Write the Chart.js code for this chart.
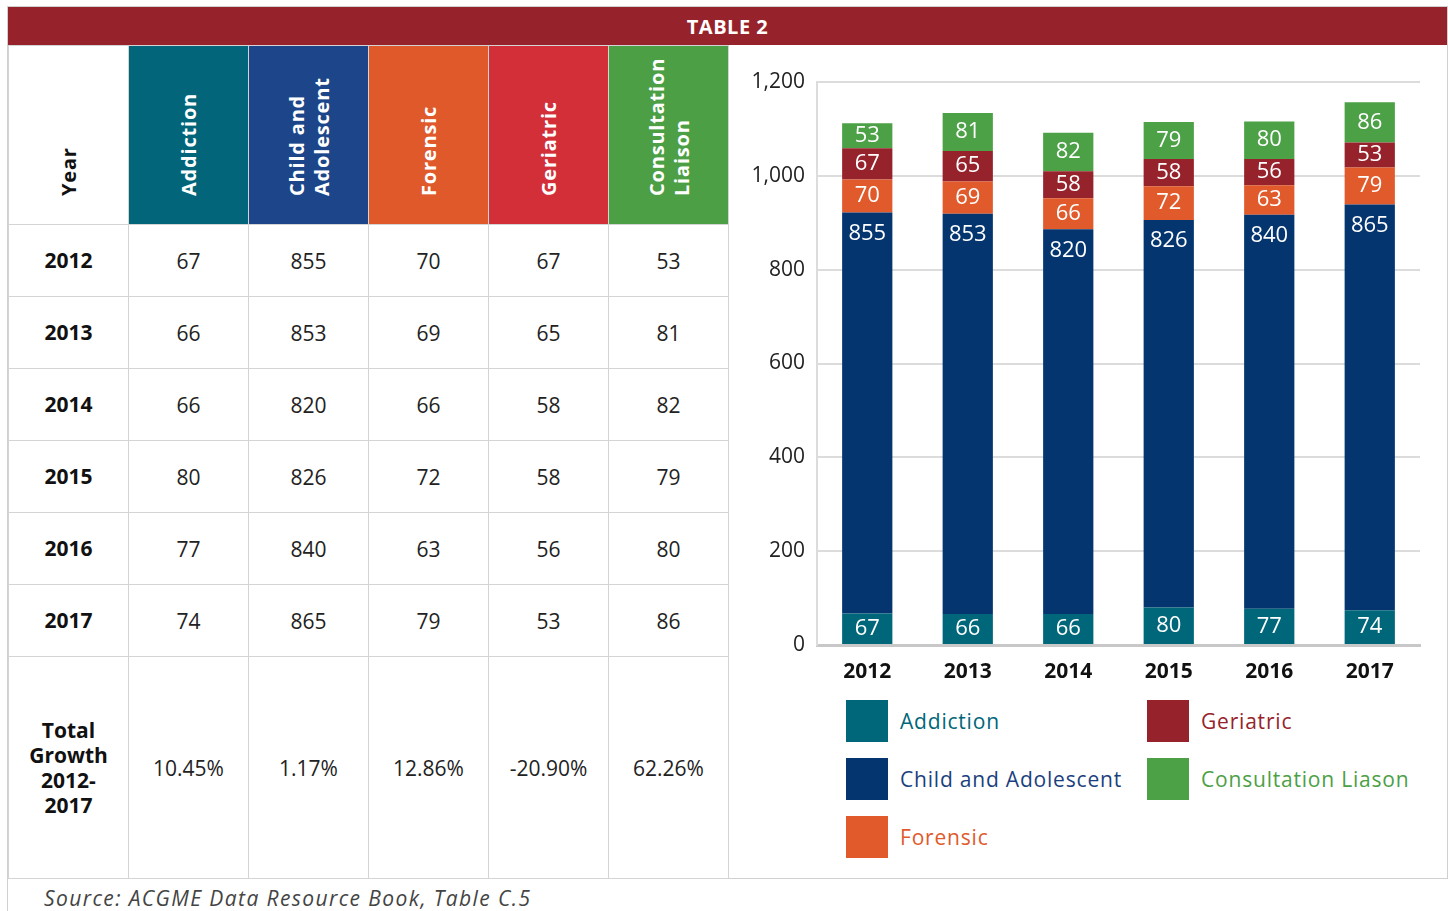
<!DOCTYPE html>
<html>
<head>
<meta charset="utf-8">
<script src="https://cdn.jsdelivr.net/npm/chart.js@4.4.1/dist/chart.umd.min.js"></script>
<style>
    body { margin: 0; background: #fff; font-family: "Open Sans", sans-serif; color: #222; }
    #frame { position: absolute; left: 7px; top: 6px; width: 1439px; height: 871px; border: 1px solid #d0d0d0; }
    #leftEdge { position: absolute; left: 7px; top: 878px; width: 1px; height: 33px; background: #d0d0d0; }
    #title { position: absolute; left: 8px; top: 7px; width: 1439px; height: 38px; background: #96232B;
        color: #fff; font-weight: 700; font-size: 20px; text-align: center; line-height: 40px; letter-spacing: 0.5px; }
    #dataTable { position: absolute; left: 8px; top: 45px; width: 721px; border-collapse: collapse; table-layout: fixed; }
    #dataTable td, #dataTable th { border: 1px solid #d4d4d4; padding: 0; text-align: center; font-size: 21px; }
    #dataTable th { height: 156px; vertical-align: bottom; padding-bottom: 22px; color: #fff; font-weight: 700; }
    #dataTable th.year { color: #111; }
    #dataTable tr.row td { height: 71px; }
    #dataTable tr.growth td { height: 221px; }
    #dataTable td.lbl { font-weight: 700; color: #111; line-height: 25px; }
    .rot { display: inline-block; writing-mode: vertical-rl; transform: rotate(180deg); height: 150px;
        text-align: start; line-height: 25px; letter-spacing: 0.8px; font-size: 20px; }
    #chartBox { position: absolute; left: 729px; top: 45px; width: 717px; height: 650px; }
    .legItem { position: absolute; height: 42px; font-size: 21px; line-height: 42px; white-space: nowrap; letter-spacing: 0.8px; }
    .legItem span.sw { display: inline-block; width: 42px; height: 42px; vertical-align: top; margin-right: 12px; }
    #source { position: absolute; left: 44px; top: 884px; font-size: 21px; font-style: italic; color: #444; letter-spacing: 1.4px; }
</style>
</head>
<body>
<div id="frame"></div>
<div id="leftEdge"></div>
<div id="title">TABLE 2</div>
<table id="dataTable"></table>
<div id="chartBox"><canvas id="chart"></canvas></div>
<div id="legend"></div>
<div id="source">Source: ACGME Data Resource Book, Table C.5</div>

<script>
// Data
const years = ['2012', '2013', '2014', '2015', '2016', '2017'];
const addiction = [67, 66, 66, 80, 77, 74];
const childAdolescent = [855, 853, 820, 826, 840, 865];
const forensic = [70, 69, 66, 72, 63, 79];
const geriatric = [67, 65, 58, 58, 56, 53];
const consultation = [53, 81, 82, 79, 80, 86];
const totalGrowth = ['10.45%', '1.17%', '12.86%', '-20.90%', '62.26%'];
const yTicks = [0, 200, 400, 600, 800, 1000, 1200];

const headerNames = ['Addiction', 'Child and Adolescent', 'Forensic', 'Geriatric', 'Consultation Liaison'];
const legendNames = ['Addiction', 'Child and Adolescent', 'Forensic', 'Geriatric', 'Consultation Liason'];
const seriesValues = [addiction, childAdolescent, forensic, geriatric, consultation];

// colours
const headerColors = ['#02657A', '#1C4689', '#E0592A', '#D22F38', '#4C9F45'];
const barColors = ['#00667A', '#04356F', '#E05A2B', '#96232B', '#4CA046'];
const legendTextColors = ['#00667A', '#1B3F7E', '#E05A2B', '#96232B', '#4CA046'];

// Build the table
const table = document.getElementById('dataTable');
let html = '<colgroup>' + '<col style="width:120px">'.repeat(6) + '</colgroup>';
html += '<tr><th class="year"><div class="rot">Year</div></th>';
headerNames.forEach((name, i) => {
    html += `<th style="background:${headerColors[i]}"><div class="rot">${name}</div></th>`;
});
html += '</tr>';
years.forEach((yr, r) => {
    html += `<tr class="row"><td class="lbl">${yr}</td>`;
    seriesValues.forEach(vals => { html += `<td>${vals[r]}</td>`; });
    html += '</tr>';
});
html += '<tr class="growth"><td class="lbl">Total<br>Growth<br>2012-<br>2017</td>';
totalGrowth.forEach(g => { html += `<td>${g}</td>`; });
html += '</tr>';
table.innerHTML = html;

// Legend (two columns, filled top to bottom)
const legend = document.getElementById('legend');
legendNames.forEach((name, i) => {
    const item = document.createElement('div');
    item.className = 'legItem';
    item.style.left = (i < 3 ? 846 : 1147) + 'px';
    item.style.top = (700 + (i % 3) * 58) + 'px';
    item.style.color = legendTextColors[i];
    item.innerHTML = `<span class="sw" style="background:${barColors[i]}"></span>${name}`;
    legend.appendChild(item);
});

// White value labels inside each segment
const segmentLabels = {
    id: 'segmentLabels',
    afterDatasetsDraw(chart) {
        const ctx = chart.ctx;
        ctx.save();
        ctx.font = '22px "Open Sans"';
        ctx.fillStyle = '#fff';
        ctx.textAlign = 'center';
        ctx.textBaseline = 'middle';
        chart.data.datasets.forEach((ds, i) => {
            chart.getDatasetMeta(i).data.forEach((bar, j) => {
                const top = Math.min(bar.y, bar.base);
                const h = Math.abs(bar.base - bar.y);
                ctx.fillText(ds.data[j], bar.x, top + Math.min(h / 2, 21));
            });
        });
        ctx.restore();
    }
};

new Chart(document.getElementById('chart'), {
    type: 'bar',
    data: {
        labels: years,
        datasets: legendNames.map((name, i) => ({
            label: name,
            data: seriesValues[i],
            backgroundColor: barColors[i],
            borderWidth: 0,
            barPercentage: 0.5,
            categoryPercentage: 1
        }))
    },
    options: {
        responsive: true,
        maintainAspectRatio: false,
        animation: false,
        layout: { padding: { top: 37, right: 26, left: 0, bottom: 0 } },
        plugins: {
            legend: { display: false },
            tooltip: { enabled: false }
        },
        scales: {
            x: {
                stacked: true,
                grid: { display: false, drawTicks: false },
                border: { display: true, color: '#c8c8c8', width: 3 },
                ticks: { color: '#111', padding: 14, font: { family: 'Open Sans', size: 21, weight: 'bold' } },
                afterFit: s => { s.height = 50; }
            },
            y: {
                stacked: true,
                min: 0,
                max: 1200,
                afterBuildTicks: s => { s.ticks = yTicks.map(v => ({ value: v })); },
                grid: {
                    drawTicks: false,
                    color: c => c.tick && c.tick.value === 0 ? '#c8c8c8' : '#dcdcdc',
                    lineWidth: 2
                },
                border: { display: true, color: '#dcdcdc', width: 2 },
                ticks: {
                    color: '#222',
                    padding: 12,
                    font: { family: 'Open Sans', size: 21 },
                    callback: v => v.toLocaleString('en-US')
                },
                afterFit: s => { s.width = 88; }
            }
        }
    },
    plugins: [segmentLabels]
});
</script>
</body>
</html>
